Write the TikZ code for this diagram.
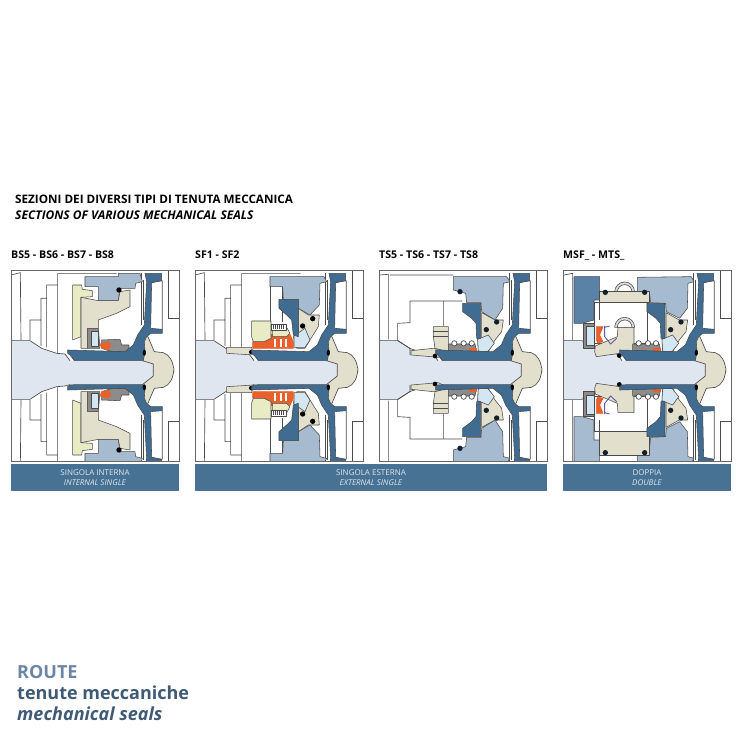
\documentclass[tikz,border=0pt]{standalone}
\usepackage{fontspec}
\setmainfont{Open Sans}
\definecolor{sealblue}{HTML}{3F6C90}
\definecolor{sealmid}{HTML}{5A82A6}
\definecolor{sealblock}{HTML}{A6BBCF}
\definecolor{sealbeige}{HTML}{E2DFCC}
\definecolor{sealyellow}{HTML}{E8EBC4}
\definecolor{sealshaft}{HTML}{DFE6F0}
\definecolor{sealcyan}{HTML}{D3E6F2}
\definecolor{sealorange}{HTML}{E8602C}
\definecolor{sealgrey}{HTML}{8C8C8C}
\definecolor{sealline}{HTML}{4A4A4A}
\definecolor{bannerblue}{HTML}{487294}
\definecolor{bannertext}{HTML}{DCE6EE}
\definecolor{routelight}{HTML}{6B85A4}
\definecolor{routedark}{HTML}{3F5A75}
\newif\ifupperhalf
\tikzset{
  part/.style={draw=sealline,line width=.55pt,line join=round},
  edgeline/.style={draw=sealline,line width=.65pt},
  bluepart/.style={part,fill=sealblue},
  blockpart/.style={part,fill=sealblock},
  beigepart/.style={part,fill=sealbeige},
  yellowpart/.style={part,fill=sealyellow},
  cyanpart/.style={part,fill=sealcyan},
  orangepart/.style={part,fill=sealorange,draw=sealorange},
  greypart/.style={part,fill=sealgrey},
  ring/.style={fill=black},
  darkring/.style={fill=black!70!sealblue},
  panelframe/.style={draw=black!60,line width=.8pt},
  banner/.style={fill=bannerblue,minimum height=27pt,inner sep=0pt,align=center,text=bannertext,font=\fontsize{8}{10.5}\selectfont},
  title/.style={anchor=base west,inner sep=0pt,font=\fontsize{11.7}{13}\selectfont\bfseries},
  tag/.style={anchor=base west,inner sep=0pt,font=\fontsize{10.6}{13}\selectfont\bfseries},
  route/.style={anchor=west,inner sep=0pt,font=\fontsize{18}{20}\selectfont\bfseries}
}
% parts common to all the sections, drawn once above the axis and once mirrored
\newcommand{\sealbase}{
  \fill[sealshaft] (18,302) -- (75,302) -- (110,325) -- (155,340) -- (180,342) -- (195,\sleevein) -- (412,\sleevein) -- (445,372) -- (445,395) -- (18,395) -- cycle;
  \draw[edgeline] (18,302) -- (75,302) -- (110,325) -- (155,340) -- (180,342) -- (195,\sleevein);
  \fill[sealbeige] (428,288) -- (448,335) -- (475,338) .. controls (495,345) and (505,365) .. (507,395) -- (445,395) -- (445,372) -- (412,\sleevein) -- (420,335) -- (418,305) -- cycle;
  \draw[edgeline] (445,395) -- (445,372) -- (412,\sleevein) (428,288) -- (448,335) -- (475,338) .. controls (495,345) and (505,365) .. (507,395);
  \draw[edgeline] (408,100) -- (408,255) (416,120) -- (416,240) (490,90) -- (490,235) -- (522,235);
  \draw[edgeline] (437,128) -- (472,122) -- (472,268);
}
\newcommand{\sealplate}{
  \path[bluepart] (420,100) -- (470,100) -- (470,122) -- (440,128) -- (437,265) -- (472,268) -- (472,280) -- (437,280) -- (425,290) -- (418,305) -- (420,335) -- (415,\sleevein) -- (208,\sleevein) -- (195,345) -- (188,340) -- (188,330) -- (360,335) -- (385,315) -- (398,285) -- (418,255) -- (425,125) -- cycle;
  \fill[ring] (418,338) ellipse (5 and 9);
}
\newcommand{\sealleft}{
  \draw[edgeline] (18,105) -- (46,98) -- (48,300) (75,300) -- (75,240) -- (108,240) -- (108,175) -- (125,175) -- (125,135) -- (158,135) (125,175) -- (125,322) (108,240) -- (108,318) (158,100) -- (158,340) (158,100) -- (335,100);
}
% bellows and seat of the TS and MSF sections
\newcommand{\sealface}{
  \path[beigepart] (320,218) -- (360,240) -- (385,240) -- (380,275) -- (360,300) -- (340,335) -- (310,335) -- (308,295) -- (320,295) -- cycle;
  \path[cyanpart] (308,298) -- (340,285) -- (358,310) -- (338,335) -- (310,335) -- cycle;
  \path[bluepart] (263,190) -- (317,190) -- (317,295) -- (305,295) -- (303,250) -- (290,235) -- (263,215) -- cycle;
  \path[greypart] (220,312) -- (300,312) -- (305,338) -- (220,338) -- cycle;
  \foreach \bx in {238,266,290} {\draw[part,fill=white,line width=.7pt] (\bx,310) circle (8);}
  \path[orangepart] (282,325) -- (304,325) -- (304,337) -- (282,337) -- cycle;
  \fill[darkring] (365,246) circle (8);
  \fill[darkring] (334,269) circle (8);
}
\newcommand{\sectionBS}{
  \sealbase \sealleft
  \path[blockpart] (240,110) -- (340,110) -- (340,100) -- (405,100) -- (412,125) -- (392,130) -- (390,145) -- (345,145) -- (340,182) -- (280,182) -- (280,140) -- (240,140) -- cycle;
  \path[yellowpart] (203,135) -- (230,135) -- (232,148) -- (262,152) -- (262,170) -- (228,172) -- (228,290) -- (203,300) -- cycle;
  \path[beigepart] (228,172) -- (280,182) -- (340,182) -- (345,155) -- (375,150) -- (375,200) -- (335,220) -- (280,240) -- (280,265) -- (248,265) -- (248,325) -- (228,325) -- cycle;
  \path[greypart] (248,265) -- (280,265) -- (285,325) -- (248,325) -- cycle;
  \path[cyanpart] (258,275) -- (280,275) -- (280,320) -- (258,320) -- cycle;
  \path[greypart] (290,300) -- (345,298) -- (350,315) -- (372,315) -- (372,335) -- (320,335) -- (290,325) -- cycle;
  \path[orangepart] (285,312) -- (310,305) -- (318,315) -- (310,330) -- (290,325) -- cycle;
  \fill[ring] (342,150) circle (8);
  \sealplate
}
\newcommand{\sectionSF}{
  \sealbase \sealleft
  \begin{scope}[xshift=1pt]
  \path[blockpart] (240,110) -- (402,110) -- (410,125) -- (390,130) -- (388,195) -- (360,225) -- (325,205) -- (325,178) -- (280,178) -- (278,140) -- (240,140) -- cycle;
  \draw[edgeline] (240,140) -- (240,243) (278,140) -- (278,245);
  \path[beigepart] (325,205) -- (355,225) -- (388,225) -- (385,260) -- (360,300) -- (345,325) -- (320,325) -- (310,290) -- (325,290) -- cycle;
  \path[cyanpart] (312,288) -- (345,265) -- (360,300) -- (345,322) -- (312,322) -- cycle;
  \path[bluepart] (267,178) -- (325,178) -- (325,290) -- (310,285) -- (305,240) -- (290,225) -- (267,205) -- cycle;
  \path[beigepart] (110,322) -- (185,322) -- (190,345) -- (110,340) -- cycle;
  \path[orangepart] (188,305) -- (222,305) -- (243,295) -- (243,283) -- (300,283) -- (310,305) -- (310,325) -- (188,325) -- cycle;
  \foreach \bx in {252,269,286} {\fill[white] (\bx,297) rectangle ++(6,25);}
  \path[yellowpart] (185,243) -- (243,243) -- (243,295) -- (222,305) -- (190,305) -- (185,290) -- cycle;
  \path[yellowpart] (248,262) -- (290,262) -- (300,280) -- (290,290) -- (248,290) -- cycle;
  \path[part,fill=white] (245,252) rectangle (288,270);
  \foreach \bx in {250,256,...,284} {\draw[sealline,line width=.8pt] (\bx,256) -- (\bx,268);}
  \fill[ring] (184,336) circle (7);
  \fill[ring] (338,258) circle (8);
  \fill[ring] (368,236) circle (8);
  \end{scope}
  \sealplate
}
\newcommand{\sectionTS}{
  \sealbase
  \begin{scope}[xshift=2pt]
  \draw[edgeline] (14,105) -- (40,103) -- (40,298) (45,105) -- (235,105) (105,183) -- (262,183) (105,183) -- (105,248) -- (68,250) -- (68,302) -- (105,325) -- (105,345) (205,183) -- (205,258);
  \path[blockpart] (235,110) -- (395,110) -- (405,125) -- (385,130) -- (383,205) -- (360,240) -- (320,215) -- (318,188) -- (275,188) -- (272,160) -- (235,150) -- cycle;
  \path[beigepart] (108,332) -- (175,325) -- (225,335) -- (190,352) -- (108,345) -- cycle;
  \path[beigepart] (175,260) -- (220,260) -- (220,335) -- (180,325) -- (175,290) -- cycle;
  \draw[edgeline] (175,275) -- (220,275) (175,290) -- (220,290);
  \sealface
  \fill[darkring] (255,155) circle (8);
  \fill[ring] (180,348) circle (7);
  \end{scope}
  \sealplate
}
\newcommand{\sectionMS}{
  \sealbase
  \begin{scope}[xshift=1pt]
  \draw[edgeline] (18,105) -- (44,100) -- (44,300);
  \path[part,fill=sidefill] (48,110) -- (125,110) -- (125,180) -- (108,180) -- (108,240) -- (72,250) -- (48,250) -- cycle;
  \path[blockpart] (238,112) -- (400,110) -- (408,125) -- (390,130) -- (388,205) -- (365,235) -- (325,215) -- (323,190) -- (278,188) -- (275,160) -- (238,155) -- cycle;
  \ifupperhalf
    \path[part,fill=black!15] (170,156) arc (180:360:30) -- cycle;
    \path[part,fill=white] (178,156) arc (180:360:22) -- cycle;
  \fi
  \path[part,fill=white] (110,\msbandlow) rectangle (268,310);
  \draw[edgeline] (125,\msbandlow) -- (125,240);
  \path[beigepart] (125,\msbandtop) -- (275,\msbandtop) -- (275,\msbandlow) -- (125,\msbandlow) -- cycle;
  \fill[darkring] (142,\msbandring) circle (8);
  \fill[darkring] (260,\msbandring) circle (8);
  \path[greypart] (75,250) -- (110,250) -- (110,325) -- (75,325) -- cycle;
  \path[cyanpart] (85,258) -- (110,258) -- (110,315) -- (85,315) -- cycle;
  \ifupperhalf
    \path[part,fill=black!15] (170,262) arc (180:360:30) -- cycle;
    \path[part,fill=white] (178,262) arc (180:360:22) -- cycle;
  \fi
  \path[beigepart] (112,318) -- (178,290) -- (180,262) -- (228,262) -- (228,335) -- (185,340) -- (115,350) -- (110,335) -- cycle;
  \path[orangepart] (115,260) -- (135,260) -- (125,285) -- (135,305) -- (120,310) -- (115,300) -- cycle;
  \draw[draw=sealmid!70!violet,line width=.9pt] (140,258) -- (140,290) -- (158,312) -- (176,295) (140,262) -- (155,258);
  \begin{scope}[xshift=1.33pt]
  \sealface
  \end{scope}
  \fill[ring] (184,347) circle (7);
  \end{scope}
  \sealplate
}
% one framed panel: #1 is the left edge, #2 the section, axis at y=370
\newcommand{\sealpanel}[2]{
  \begin{scope}
    \clip (#1,279) rectangle ++(168,191);
    \colorlet{sidefill}{sealmid}
    \def\sleevein{362}\def\msbandtop{155}\def\msbandlow{188}\def\msbandring{157}
    \upperhalftrue
    \begin{scope}[shift={(#1-6,500)},x=0.3333pt,y=-0.3333pt] #2 \end{scope}
    \colorlet{sidefill}{sealblock}
    \def\sleevein{346}\def\msbandtop{135}\def\msbandlow{205}\def\msbandring{142}
    \upperhalffalse
    \begin{scope}[shift={(#1-6,240)},x=0.3333pt,y=0.3333pt] #2 \end{scope}
  \end{scope}
  \draw[panelframe] (#1,279) rectangle ++(168,191);
}
\begin{document}
\begin{tikzpicture}[x=1pt,y=1pt]
  \useasboundingbox (0,0) rectangle (740,740);
  \node[title] (head1) at (15,536) {SEZIONI DEI DIVERSI TIPI DI TENUTA MECCANICA};
  \node[title,font=\fontsize{12}{13}\selectfont\bfseries\itshape] (head2) at (15,520) {SECTIONS OF VARIOUS MECHANICAL SEALS};
  \node[tag] (tagBS) at (11,481.5) {BS5 - BS6 - BS7 - BS8};
  \node[tag] (tagSF) at (195,481.5) {SF1 - SF2};
  \node[tag] (tagTS) at (379,481.5) {TS5 - TS6 - TS7 - TS8};
  \node[tag] (tagMS) at (563,481.5) {MSF\_ - MTS\_};
  \sealpanel{11}{\sectionBS}
  \sealpanel{195}{\sectionSF}
  \sealpanel{379}{\sectionTS}
  \sealpanel{563}{\sectionMS}
  \node[banner,minimum width=168pt] (bandBS) at (95,262.5) {SINGOLA INTERNA\\\textit{INTERNAL SINGLE}};
  \node[banner,minimum width=352pt] (bandSF) at (371,262.5) {SINGOLA ESTERNA\\\textit{EXTERNAL SINGLE}};
  \node[banner,minimum width=168pt] (bandMS) at (647,262.5) {DOPPIA\\\textit{DOUBLE}};
  \node[route,text=routelight] (route1) at (17,68) {ROUTE};
  \node[route,text=routedark] (route2) at (17,47) {tenute meccaniche};
  \node[route,text=routedark,font=\fontsize{18}{20}\selectfont\bfseries\itshape] (route3) at (17,26.5) {mechanical seals};
\end{tikzpicture}
\end{document}
